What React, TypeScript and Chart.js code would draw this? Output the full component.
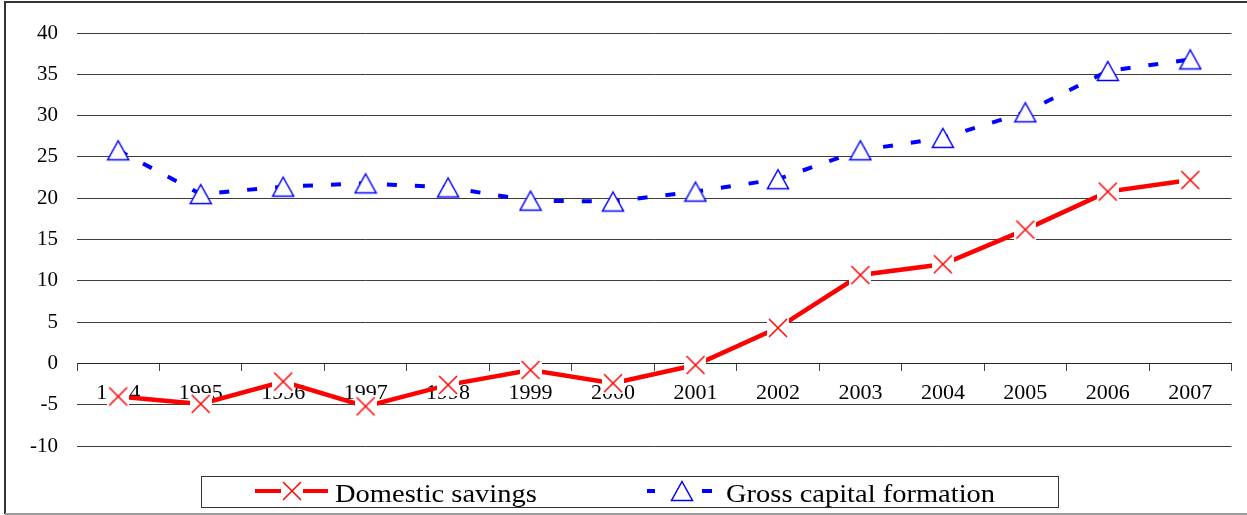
import React, { useEffect, useRef } from 'react';
import { Chart, registerables } from 'chart.js';

Chart.register(...registerables);

// Years on the category axis
const years = ['1994', '1995', '1996', '1997', '1998', '1999', '2000', '2001', '2002', '2003', '2004', '2005', '2006', '2007'];

// Percent of GDP
const domesticSavings = [-4.0, -4.9, -2.2, -5.2, -2.6, -0.8, -2.4, -0.2, 4.3, 10.7, 12.0, 16.2, 20.8, 22.2];
const grossCapitalFormation = [25.8, 20.5, 21.4, 21.8, 21.3, 19.7, 19.6, 20.8, 22.3, 25.8, 27.3, 30.4, 35.4, 36.8];

const seriesNames = ['Domestic savings', 'Gross capital formation'];

const yMin = -10;
const yMax = 40;
const yStep = 5;

const SERIF = "'Liberation Serif', 'Times New Roman', serif";
const RED = '#ff0000';
const BLUE = '#0000ff';
const W = 1247;
const H = 515;

function makeCrossMarker(): HTMLCanvasElement {
  const c = document.createElement('canvas');
  c.width = 22;
  c.height = 22;
  const g = c.getContext('2d')!;
  g.fillStyle = '#ffffff';
  g.fillRect(0, 0, 22, 22);
  g.strokeStyle = RED;
  g.lineWidth = 1.5;
  g.beginPath();
  g.moveTo(2, 2);
  g.lineTo(20, 20);
  g.moveTo(20, 2);
  g.lineTo(2, 20);
  g.stroke();
  return c;
}

function makeTriangleMarker(): HTMLCanvasElement {
  const c = document.createElement('canvas');
  c.width = 24;
  c.height = 24;
  const g = c.getContext('2d')!;
  g.beginPath();
  g.moveTo(12, 2.5);
  g.lineTo(22.5, 21.5);
  g.lineTo(1.5, 21.5);
  g.closePath();
  g.fillStyle = '#ffffff';
  g.fill();
  g.strokeStyle = BLUE;
  g.lineWidth = 1.5;
  g.stroke();
  return c;
}

function stretchedText(ctx: CanvasRenderingContext2D, text: string, x: number, y: number) {
  ctx.save();
  ctx.translate(x, y);
  ctx.scale(1.14, 1);
  ctx.fillText(text, 0, 0);
  ctx.restore();
}

export default function App() {
  const canvasRef = useRef<HTMLCanvasElement | null>(null);

  useEffect(() => {
    document.body.style.margin = '0';
    const canvas = canvasRef.current;
    if (!canvas) return;

    const cross = makeCrossMarker();
    const triangle = makeTriangleMarker();

    const framePlugin = {
      id: 'frameAndLegend',
      beforeDraw(chart: Chart) {
        const ctx = chart.ctx;
        ctx.save();
        ctx.fillStyle = '#ffffff';
        ctx.fillRect(0, 0, chart.width, chart.height);
        ctx.lineWidth = 2;
        ctx.strokeStyle = '#333333';
        ctx.beginPath();
        ctx.moveTo(chart.width + 2, 2);
        ctx.lineTo(5, 2);
        ctx.lineTo(5, 514);
        ctx.stroke();
        ctx.strokeStyle = '#9a9a9a';
        ctx.beginPath();
        ctx.moveTo(5, 514);
        ctx.lineTo(chart.width + 2, 514);
        ctx.stroke();
        ctx.restore();
      },
      afterDraw(chart: Chart) {
        const ctx = chart.ctx;
        ctx.save();
        // legend frame
        ctx.strokeStyle = '#333333';
        ctx.lineWidth = 1;
        ctx.strokeRect(201.5, 476.5, 857, 31);

        const ly = 491;
        // Domestic savings key
        ctx.strokeStyle = RED;
        ctx.lineWidth = 4;
        ctx.beginPath();
        ctx.moveTo(255, ly);
        ctx.lineTo(328, ly);
        ctx.stroke();
        ctx.drawImage(cross, 292 - 11, ly - 11);

        // Gross capital formation key
        ctx.fillStyle = BLUE;
        ctx.fillRect(647, ly - 2, 8, 4);
        ctx.fillRect(702, ly - 2, 10, 4);
        ctx.drawImage(triangle, 682 - 12, ly - 12);

        ctx.fillStyle = '#000000';
        ctx.font = `25px ${SERIF}`;
        ctx.textBaseline = 'alphabetic';
        ctx.textAlign = 'left';
        stretchedText(ctx, seriesNames[0], 335, 502);
        stretchedText(ctx, seriesNames[1], 726, 502);
        ctx.restore();
      },
    };

    const chart = new Chart(canvas, {
      type: 'line',
      data: {
        labels: years,
        datasets: [
          {
            label: seriesNames[1],
            data: grossCapitalFormation,
            borderColor: BLUE,
            borderWidth: 4,
            borderDash: [10, 18],
            tension: 0,
            pointStyle: triangle,
            pointRadius: 11,
            fill: false,
          },
          {
            label: seriesNames[0],
            data: domesticSavings,
            borderColor: RED,
            borderWidth: 4.5,
            tension: 0,
            pointStyle: cross,
            pointRadius: 11,
            fill: false,
          },
        ],
      },
      options: {
        responsive: false,
        animation: false,
        events: [],
        devicePixelRatio: 1,
        layout: { padding: { left: 0, top: 33, right: 13, bottom: 69 } },
        plugins: {
          legend: { display: false },
          tooltip: { enabled: false },
          title: { display: false },
        },
        scales: {
          y: {
            min: yMin,
            max: yMax,
            ticks: {
              stepSize: yStep,
              color: '#000000',
              font: { family: SERIF, size: 21 },
              padding: 19,
            },
            grid: {
              color: '#3c3c3c',
              lineWidth: 1,
              drawTicks: false,
            },
            border: { display: false },
            afterFit(scale: any) {
              scale.width = 77;
            },
          },
          x: {
            type: 'category',
            position: { y: 0 } as any,
            offset: true,
            ticks: {
              color: '#000000',
              font: { family: SERIF, size: 22 },
              padding: 10,
              maxRotation: 0,
              autoSkip: false,
            },
            grid: {
              drawOnChartArea: false,
              drawTicks: true,
              tickLength: 7,
              color: '#444444',
              offset: true,
            },
            border: { display: true, color: '#222222', width: 1 },
          },
        },
      },
      plugins: [framePlugin],
    });

    return () => {
      chart.destroy();
    };
  }, []);

  return (
    <div style={{ width: W, height: H, position: 'relative', background: '#ffffff' }}>
      <canvas ref={canvasRef} width={W} height={H} style={{ display: 'block' }} />
    </div>
  );
}
